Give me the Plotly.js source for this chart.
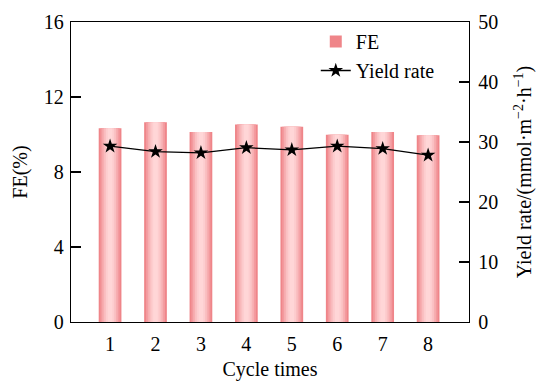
<!DOCTYPE html>
<html>
<head>
<meta charset="utf-8">
<script src="https://cdn.plot.ly/plotly-3.0.1.min.js"></script>
<style>html,body{margin:0;padding:0;background:#fff;}#chart{width:536px;height:381px;}</style>
</head>
<body>
<div id="chart"></div>
<script>
// Data
const cycles = [1, 2, 3, 4, 5, 6, 7, 8];
const feValues = [10.33, 10.65, 10.13, 10.54, 10.42, 9.99, 10.13, 9.96];
const yieldValues = [29.3, 28.4, 28.2, 29.05, 28.7, 29.3, 28.9, 27.8];
const yLeftTicks = [0, 4, 8, 12, 16];
const yRightTicks = [0, 10, 20, 30, 40, 50];

// Styling for simulated horizontal gradient on bars
const gradWidths = [0.5, 0.42, 0.34, 0.26, 0.18, 0.1];
const gradColors = ['#ef8589', '#f39a9e', '#f7aeb1', '#fac0c2', '#fdcdcf', '#ffd6d7'];

const font = 'Liberation Serif, Times New Roman, serif';
const fs = 20;
const f = {family: font, size: fs, color: '#000'};
const traces = [];
gradWidths.forEach((w, i) => {
  traces.push({
    type: 'bar', x: cycles, y: feValues, width: w,
    name: 'FE', showlegend: i === 0, legendrank: 1,
    marker: {color: gradColors[i], line: {width: 0}},
    hoverinfo: i === 0 ? 'x+y' : 'skip'
  });
});
traces.push({
  type: 'scatter', mode: 'lines+markers', x: cycles, y: yieldValues,
  yaxis: 'y2', name: 'Yield rate', legendrank: 2,
  line: {color: '#000', width: 1.3},
  marker: {symbol: 'star', size: 11, color: '#000'}
});

const layout = {
  width: 536, height: 381,
  margin: {l: 71, r: 67, t: 22, b: 59},
  paper_bgcolor: '#fff', plot_bgcolor: '#fff',
  font: f,
  barmode: 'overlay',
  showlegend: true,
  legend: {x: 0.615, y: 1.0, xanchor: 'left', yanchor: 'top', bgcolor: 'rgba(0,0,0,0)',
           font: f, itemwidth: 30, tracegroupgap: 0},
  xaxis: {
    range: [0.14, 8.9], tickvals: cycles, ticks: '', ticklabelstandoff: 4, tickfont: f,
    showline: true, linecolor: '#000', linewidth: 1.3, mirror: true,
    showgrid: false, zeroline: false,
    title: {text: 'Cycle times', standoff: 9, font: f}
  },
  yaxis: {
    range: [0, 16], tickvals: yLeftTicks, ticks: 'inside', ticklen: 10, tickwidth: 1.3, tickcolor: '#000',
    tickfont: f, ticklabelstandoff: 2,
    showline: true, linecolor: '#000', linewidth: 1.3,
    showgrid: false, zeroline: false,
    title: {text: 'FE(%)', standoff: 10, font: f}
  },
  yaxis2: {
    overlaying: 'y', side: 'right', range: [0, 50], tickvals: yRightTicks,
    ticks: 'inside', ticklen: 10, tickwidth: 1.3, tickcolor: '#000',
    tickfont: f, ticklabelstandoff: 4,
    showline: true, linecolor: '#000', linewidth: 1.3,
    showgrid: false, zeroline: false,
    title: {text: 'Yield rate/(mmol·m<sup>−2</sup>·h<sup>−1</sup>)', standoff: 20, font: f}
  }
};

Plotly.newPlot('chart', traces, layout, {displayModeBar: false, staticPlot: true});
</script>
</body>
</html>
